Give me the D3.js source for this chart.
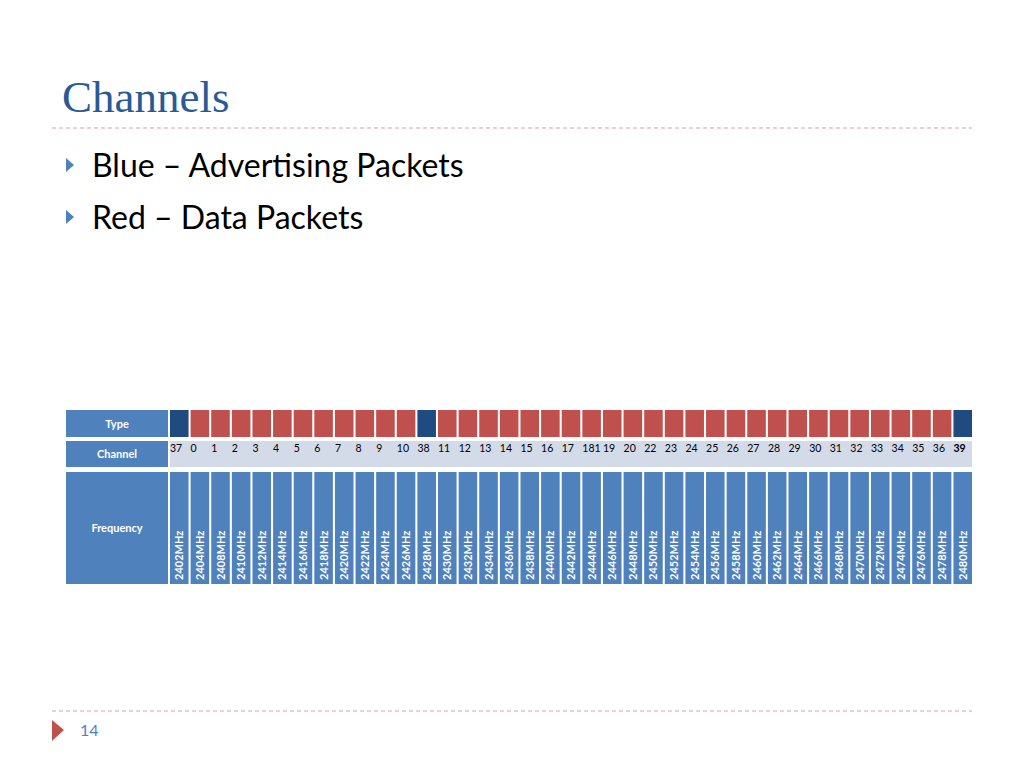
<!DOCTYPE html>
<html>
<head>
<meta charset="utf-8">
<script src="https://cdn.jsdelivr.net/npm/d3@7"></script>
<style>
  body { margin: 0; background: #fff; }
  svg { display: block; }
</style>
</head>
<body>
<svg id="main" width="1024" height="768"></svg>
<script>
// DATA
const channels = ['37','0','1','2','3','4','5','6','7','8','9','10','38','11','12','13','14','15','16','17','181','19','20','22','23','24','25','26','27','28','29','30','31','32','33','34','35','36','39']
const frequencies = ['2402','2404','2408','2410','2412','2414','2416','2418','2420','2422','2424','2426','2428','2430','2432','2434','2436','2438','2440','2442','2444','2446','2448','2450','2452','2454','2456','2458','2460','2462','2464','2466','2468','2470','2472','2474','2476','2478','2480']
const types = channels.map(c => ['37', '38', '39'].includes(c) ? 'adv' : 'data')
const bullets = ['Blue – Advertising Packets', 'Red – Data Packets']

const svg = d3.select('#main')
const font = 'Lato, "DejaVu Sans", sans-serif'

// TITLE + RULES
svg.append('text').attrs ? null : null
svg.append('text').attr('x', 62).attr('y', 112)
  .attr('font-family', '"Liberation Serif", serif').attr('font-size', 45)
  .attr('fill', '#2a5a96').text('Channels')
svg.append('line').attr('x1', 52).attr('x2', 972).attr('y1', 128).attr('y2', 128)
  .attr('stroke', '#d9a0a8').attr('stroke-dasharray', '4,3')
svg.append('line').attr('x1', 52).attr('x2', 972).attr('y1', 711).attr('y2', 711)
  .attr('stroke', '#d9a0a8').attr('stroke-dasharray', '4,3')

bullets.forEach((b, i) => {
  const y = 177 + i * 52
  svg.append('path').attr('d', `M66,${y - 19} L74,${y - 12} L66,${y - 5} Z`).attr('fill', '#4f81bd')
  svg.append('text').attr('x', 92).attr('y', y).attr('font-family', font)
    .attr('font-size', 32).attr('fill', '#000').text(b)
})

// footer
svg.append('path').attr('d', 'M52,720 L64,730 L52,741 Z').attr('fill', '#c0504d')
svg.append('text').attr('x', 80).attr('y', 736).attr('font-family', font)
  .attr('font-size', 16).attr('fill', '#4f81bd').text('14')

// TABLE
const x = d3.scaleBand().domain(d3.range(channels.length)).range([170, 972]).paddingInner(0.1)
const rows = { type: [410, 437], channel: [441, 467], freq: [472, 584] }
const blue = '#4f81bd'

// header column
;[['Type', 'type'], ['Channel', 'channel'], ['Frequency', 'freq']].forEach(([label, k]) => {
  const [y0, y1] = rows[k]
  svg.append('rect').attr('x', 66).attr('y', y0).attr('width', 102).attr('height', y1 - y0).attr('fill', blue)
  svg.append('text').attr('x', 117).attr('y', (y0 + y1) / 2 + 4).attr('text-anchor', 'middle')
    .attr('font-family', font).attr('font-weight', 'bold').attr('font-size', 11)
    .attr('fill', '#fff').text(label)
})

// channel row background
svg.append('rect').attr('x', 170).attr('y', rows.channel[0]).attr('width', 802)
  .attr('height', rows.channel[1] - rows.channel[0]).attr('fill', '#d3dae8')

const col = svg.selectAll('g.col').data(channels).join('g').attr('class', 'col')
  .attr('transform', (d, i) => `translate(${x(i)},0)`)

col.append('rect').attr('y', rows.type[0]).attr('width', x.bandwidth()).attr('height', rows.type[1] - rows.type[0])
  .attr('fill', (d, i) => types[i] === 'adv' ? '#1f4b80' : '#c0504d')

col.append('text').attr('x', 0).attr('y', 452).attr('font-family', font).attr('font-size', 10.5)
  .attr('font-weight', (d, i) => i === channels.length - 1 ? 'bold' : 'normal')
  .attr('fill', '#000').text(d => d)

col.append('rect').attr('y', rows.freq[0]).attr('width', x.bandwidth()).attr('height', rows.freq[1] - rows.freq[0])
  .attr('fill', blue)

col.append('text').attr('transform', `translate(${x.bandwidth() / 2 + 4},580) rotate(-90)`)
  .attr('font-family', font).attr('font-weight', 'bold').attr('font-size', 11)
  .attr('fill', '#fff').text((d, i) => frequencies[i] + 'MHz')
</script>
</body>
</html>
